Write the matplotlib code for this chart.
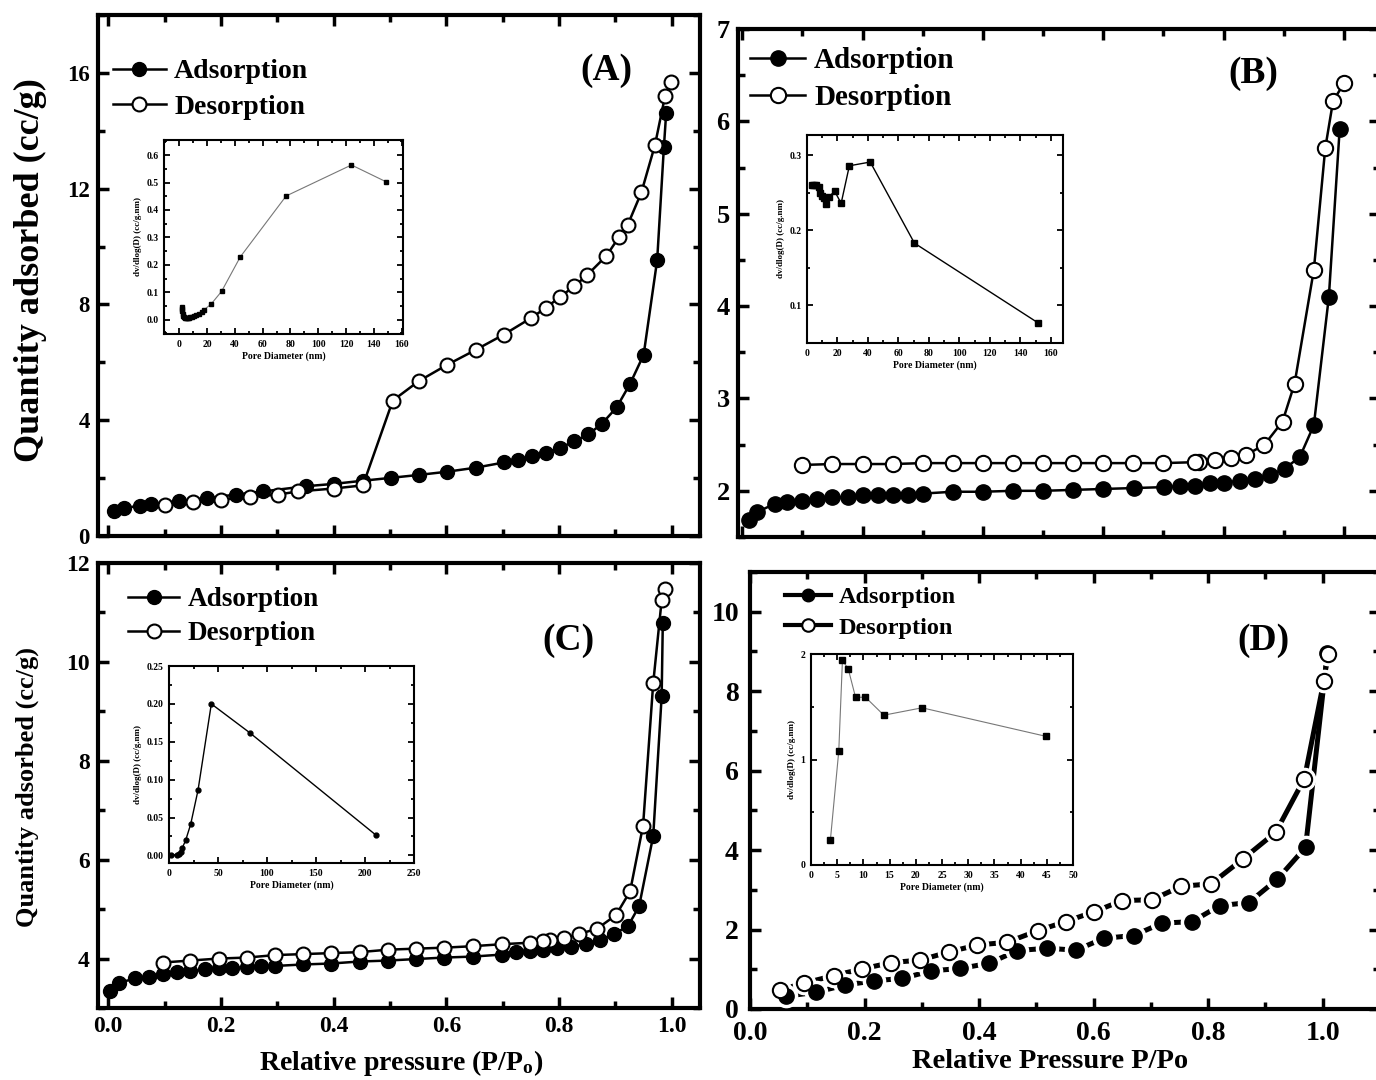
import matplotlib
matplotlib.use("Agg")
import matplotlib.pyplot as plt
from matplotlib.ticker import MultipleLocator
from matplotlib.lines import Line2D

plt.rcParams['font.family'] = ['Liberation Serif', 'DejaVu Serif']
plt.rcParams['font.weight'] = 'bold'
plt.rcParams['mathtext.fontset'] = 'custom'
plt.rcParams['mathtext.rm'] = 'Liberation Serif:bold'
plt.rcParams['mathtext.it'] = 'Liberation Serif:bold'
plt.rcParams['mathtext.bf'] = 'Liberation Serif:bold'

# ---- panel A isotherm ----
a_ads_x = [0.010, 0.028, 0.056, 0.076, 0.126, 0.176, 0.226, 0.275, 0.351, 0.400, 0.452,
           0.502, 0.551, 0.601, 0.652, 0.702, 0.727, 0.752, 0.777, 0.801, 0.827, 0.852,
           0.876, 0.902, 0.926, 0.950, 0.974, 0.986, 0.990]
a_ads_y = [0.88, 0.96, 1.05, 1.11, 1.20, 1.31, 1.43, 1.54, 1.72, 1.80, 1.91,
           2.01, 2.11, 2.22, 2.36, 2.54, 2.63, 2.75, 2.87, 3.04, 3.27, 3.51,
           3.88, 4.44, 5.26, 6.26, 9.53, 13.45, 14.62]
a_des_x = [0.998, 0.988, 0.970, 0.946, 0.922, 0.906, 0.884, 0.849, 0.827, 0.801, 0.777,
           0.751, 0.702, 0.652, 0.601, 0.551, 0.505, 0.452, 0.400, 0.337, 0.301, 0.251,
           0.200, 0.150, 0.101]
a_des_y = [15.70, 15.20, 13.50, 11.87, 10.76, 10.32, 9.68, 9.00, 8.63, 8.25, 7.89,
           7.54, 6.96, 6.43, 5.91, 5.35, 4.68, 1.75, 1.64, 1.54, 1.43, 1.35,
           1.25, 1.17, 1.08]

# ---- panel B isotherm ----
b_ads_x = [0.011, 0.025, 0.054, 0.075, 0.100, 0.125, 0.150, 0.175, 0.200, 0.225, 0.250,
           0.275, 0.300, 0.350, 0.400, 0.450, 0.500, 0.550, 0.600, 0.651, 0.701, 0.727,
           0.752, 0.777, 0.801, 0.827, 0.852, 0.877, 0.902, 0.927, 0.950, 0.975, 0.993]
b_ads_y = [1.68, 1.77, 1.86, 1.88, 1.89, 1.91, 1.93, 1.93, 1.95, 1.96, 1.96,
           1.96, 1.97, 1.99, 1.99, 2.00, 2.00, 2.01, 2.02, 2.03, 2.04, 2.05,
           2.05, 2.08, 2.09, 2.11, 2.13, 2.17, 2.24, 2.37, 2.71, 4.10, 5.92]
b_des_x = [1.000, 0.982, 0.969, 0.950, 0.918, 0.898, 0.868, 0.838, 0.812, 0.786, 0.759,
           0.752, 0.700, 0.650, 0.600, 0.550, 0.500, 0.450, 0.400, 0.350, 0.300, 0.250,
           0.200, 0.150, 0.100]
b_des_y = [6.41, 6.22, 5.71, 4.39, 3.16, 2.75, 2.50, 2.39, 2.35, 2.33, 2.31,
           2.31, 2.30, 2.30, 2.30, 2.30, 2.30, 2.30, 2.30, 2.30, 2.30, 2.29,
           2.29, 2.29, 2.28]

# ---- panel C isotherm ----
c_ads_x = [0.004, 0.020, 0.048, 0.072, 0.097, 0.122, 0.146, 0.171, 0.196, 0.220, 0.246,
           0.271, 0.296, 0.345, 0.396, 0.446, 0.497, 0.546, 0.596, 0.647, 0.698, 0.723,
           0.748, 0.772, 0.797, 0.822, 0.848, 0.873, 0.897, 0.922, 0.942, 0.967, 0.982, 0.984]
c_ads_y = [3.35, 3.51, 3.60, 3.63, 3.68, 3.73, 3.75, 3.78, 3.80, 3.81, 3.82,
           3.84, 3.85, 3.88, 3.90, 3.94, 3.96, 3.99, 4.02, 4.04, 4.08, 4.13,
           4.15, 4.18, 4.21, 4.23, 4.30, 4.37, 4.50, 4.65, 5.06, 6.48, 9.31, 10.79]
c_des_x = [0.988, 0.982, 0.967, 0.949, 0.926, 0.901, 0.867, 0.836, 0.808, 0.783, 0.772,
           0.748, 0.698, 0.647, 0.596, 0.546, 0.497, 0.446, 0.396, 0.345, 0.296, 0.246,
           0.196, 0.146, 0.097]
c_des_y = [11.47, 11.25, 9.57, 6.69, 5.36, 4.88, 4.60, 4.50, 4.41, 4.37, 4.36,
           4.32, 4.29, 4.25, 4.22, 4.20, 4.18, 4.13, 4.11, 4.09, 4.07, 4.02,
           4.00, 3.96, 3.92]

# ---- panel D isotherm ----
d_ads_x = [0.062, 0.115, 0.165, 0.217, 0.266, 0.316, 0.367, 0.417, 0.467, 0.519, 0.569,
           0.618, 0.670, 0.719, 0.772, 0.820, 0.871, 0.921, 0.970, 1.008]
d_ads_y = [0.32, 0.42, 0.60, 0.71, 0.77, 0.96, 1.02, 1.15, 1.47, 1.53, 1.48,
           1.78, 1.85, 2.16, 2.20, 2.60, 2.68, 3.27, 4.07, 8.95]
d_des_x = [1.009, 1.002, 0.968, 0.918, 0.861, 0.805, 0.753, 0.702, 0.650, 0.601, 0.551,
           0.502, 0.449, 0.397, 0.348, 0.297, 0.247, 0.196, 0.146, 0.094, 0.052]
d_des_y = [8.93, 8.26, 5.80, 4.45, 3.78, 3.15, 3.09, 2.75, 2.73, 2.45, 2.20,
           1.97, 1.68, 1.61, 1.44, 1.23, 1.17, 1.01, 0.84, 0.65, 0.48]

# ---- pore size distribution insets ----
a_pore_d = [1.8, 2.0, 2.3, 2.6, 3.0, 3.5, 4.0, 4.6, 5.3, 6.1, 7.0, 8.0, 9.2, 10.6, 12.2,
            14.0, 16.0, 17.8, 22.9, 30.4, 43.9, 76.9, 123.9, 148.7]
a_pore_v = [0.045, 0.038, 0.030, 0.022, 0.015, 0.010, 0.007, 0.005, 0.005, 0.006, 0.007,
            0.009, 0.011, 0.014, 0.018, 0.022, 0.028, 0.036, 0.057, 0.103, 0.229, 0.451,
            0.564, 0.503]
b_pore_d = [3.3, 4.6, 6.1, 7.7, 8.3, 10.1, 11.2, 12.3, 14.5, 18.2, 22.4, 27.8, 41.5, 70.5, 151.5]
b_pore_v = [0.261, 0.261, 0.260, 0.258, 0.250, 0.246, 0.243, 0.235, 0.245, 0.252, 0.236,
            0.286, 0.291, 0.183, 0.077]
c_pore_d = [1.7, 8.5, 10.2, 11.9, 13.6, 17.0, 22.1, 29.6, 43.2, 82.3, 211.0]
c_pore_v = [0.0, 0.0, 0.002, 0.005, 0.010, 0.020, 0.041, 0.086, 0.200, 0.162, 0.027]
d_pore_d = [3.7, 5.3, 6.0, 7.1, 8.5, 10.4, 13.9, 21.2, 44.8]
d_pore_v = [0.237, 1.08, 1.94, 1.86, 1.59, 1.59, 1.42, 1.49, 1.22]

W, H = 1376, 1080
fig = plt.figure(figsize=(W / 100, H / 100), dpi=100)


def rect(x0, y0, x1, y1):
    return [x0 / W, 1 - y1 / H, (x1 - x0) / W, (y1 - y0) / H]


def fpos(x, y):
    return (x / W, 1 - y / H)


def isotherm(r, ax_x, ay, dx, dy, xlim, ylim, ymaj, tick_fs, ms, lw, gap=False):
    ax = fig.add_axes(rect(*r))
    if gap:
        ax.plot(ax_x, ay, '-', color='k', lw=lw, zorder=2)
        ax.plot(dx, dy, '-', color='k', lw=lw, zorder=2)
        ax.plot(ax_x, ay, 'o', color='white', ms=ms + 5, zorder=3)
        ax.plot(dx, dy, 'o', color='white', ms=ms + 5, zorder=3)
        ax.plot(ax_x, ay, 'o', color='k', ms=ms, zorder=4)
        ax.plot(dx, dy, 'o', mfc='white', mec='k', mew=1.5, ms=ms, zorder=4)
    else:
        ax.plot(ax_x, ay, '-o', color='k', lw=lw, ms=ms, zorder=3)
        ax.plot(dx, dy, '-o', color='k', mfc='white', mec='k', mew=1.5, lw=lw, ms=ms, zorder=3)
    ax.set_xlim(*xlim)
    ax.set_ylim(*ylim)
    ax.xaxis.set_major_locator(MultipleLocator(0.2))
    ax.xaxis.set_minor_locator(MultipleLocator(0.1))
    ax.yaxis.set_major_locator(MultipleLocator(ymaj))
    ax.yaxis.set_minor_locator(MultipleLocator(ymaj / 2))
    ax.tick_params(which='both', direction='in', top=True, right=True, width=2.5,
                   labelsize=tick_fs, pad=6)
    ax.tick_params(which='major', length=8)
    ax.tick_params(which='minor', length=5)
    for s in ax.spines.values():
        s.set_linewidth(3)
    return ax


def legend(ax, x, y, fs, ms, lw):
    h1 = Line2D([], [], color='k', marker='o', lw=lw, ms=ms)
    h2 = Line2D([], [], color='k', marker='o', mfc='white', mew=1.5, lw=lw, ms=ms)
    ax.legend([h1, h2], ['Adsorption', 'Desorption'], loc='upper left',
              bbox_to_anchor=fpos(x, y), bbox_transform=fig.transFigure,
              frameon=False, handlelength=1.9, handletextpad=0.3,
              labelspacing=0.35, borderpad=0, borderaxespad=0,
              prop={'weight': 'bold', 'size': fs})


def inset(r, xs, ys, xlim, ylim, xmaj, ymaj, yfmt, marker, ms, color, lw):
    ax = fig.add_axes(rect(*r))
    ax.plot(xs, ys, '-', color=color, lw=lw, zorder=2)
    ax.plot(xs, ys, marker, color='k', ms=ms, lw=0, zorder=3)
    ax.set_xlim(*xlim)
    ax.set_ylim(*ylim)
    ax.xaxis.set_major_locator(MultipleLocator(xmaj))
    ax.xaxis.set_minor_locator(MultipleLocator(xmaj / 2))
    ax.yaxis.set_major_locator(MultipleLocator(ymaj))
    ax.yaxis.set_minor_locator(MultipleLocator(ymaj / 2))
    ax.yaxis.set_major_formatter(yfmt)
    ax.tick_params(which='both', direction='in', top=True, right=True, width=1.3,
                   labelsize=7, pad=4)
    ax.tick_params(which='major', length=4)
    ax.tick_params(which='minor', length=2.5)
    for s in ax.spines.values():
        s.set_linewidth(1.5)
    ax.set_xlabel('Pore Diameter (nm)', fontsize=7, fontweight='bold', labelpad=2)
    ax.set_ylabel('dv/dlog(D) (cc/g.nm)', fontsize=6.5, fontweight='bold', labelpad=3)
    return ax


# (A)
axA = isotherm((98, 15, 700, 536), a_ads_x, a_ads_y, a_des_x, a_des_y,
               (-0.018, 1.05), (0, 18), 4, 16.5, 10, 1.8)
axA.tick_params(labelbottom=False)
legend(axA, 113, 59, 20, 10, 1.8)
fig.text(*fpos(606, 70), '(A)', fontsize=27, fontweight='bold', ha='center', va='center')
fig.text(*fpos(30, 270), 'Quantity adsorbed (cc/g)', fontsize=26, fontweight='bold',
         rotation=90, ha='center', va='center')

# (B)
axB = isotherm((738, 29, 1380, 537), b_ads_x, b_ads_y, b_des_x, b_des_y,
               (-0.007, 1.06), (1.5, 7.0), 1, 19, 11, 1.8)
axB.tick_params(labelbottom=False)
legend(axB, 750, 47, 21, 11, 1.8)
fig.text(*fpos(1253, 73), '(B)', fontsize=27, fontweight='bold', ha='center', va='center')

# (C)
axC = isotherm((98, 563, 700, 1008), c_ads_x, c_ads_y, c_des_x, c_des_y,
               (-0.018, 1.05), (3, 12), 2, 17, 10, 1.8)
legend(axC, 128, 587, 19.5, 10, 1.8)
fig.text(*fpos(568, 640), '(C)', fontsize=27, fontweight='bold', ha='center', va='center')
fig.text(*fpos(27, 787), 'Quantity adsorbed (cc/g)', fontsize=19, fontweight='bold',
         rotation=90, ha='center', va='center')
fig.text(*fpos(401, 1063), r'Relative pressure (P/P$_\mathrm{o}$)', fontsize=20,
         fontweight='bold', ha='center', va='center')

# (D)
axD = isotherm((750, 572, 1380, 1009), d_ads_x, d_ads_y, d_des_x, d_des_y,
               (0, 1.1), (0, 11), 2, 20, 11, 3.6, gap=True)
axD.tick_params(axis='x', pad=9)
axD.tick_params(axis='y', pad=8)
legend(axD, 785, 586, 17.5, 9, 3.0)
fig.text(*fpos(1263, 640), '(D)', fontsize=27, fontweight='bold', ha='center', va='center')
fig.text(*fpos(1050, 1062), 'Relative Pressure P/Po', fontsize=20.5,
         fontweight='bold', ha='center', va='center')

# insets
inset((164, 140, 403, 334), a_pore_d, a_pore_v, (-11, 161), (-0.052, 0.655), 20, 0.1,
      '{x:.1f}', 's', 3.5, '#777777', 0.8)
inset((807, 135, 1063, 343), b_pore_d, b_pore_v, (0, 168), (0.05, 0.327), 20, 0.1,
      '{x:.1f}', 's', 4, 'k', 1.0)
inset((169, 666, 414, 863), c_pore_d, c_pore_v, (0, 250), (-0.01, 0.25), 50, 0.05,
      '{x:.2f}', 'o', 3.5, 'k', 1.0)
inset((811, 654, 1073, 865), d_pore_d, d_pore_v, (0, 50), (0, 2), 5, 1,
      '{x:.0f}', 's', 4.5, '#777777', 0.8)

fig.savefig('out.png', dpi=100)
